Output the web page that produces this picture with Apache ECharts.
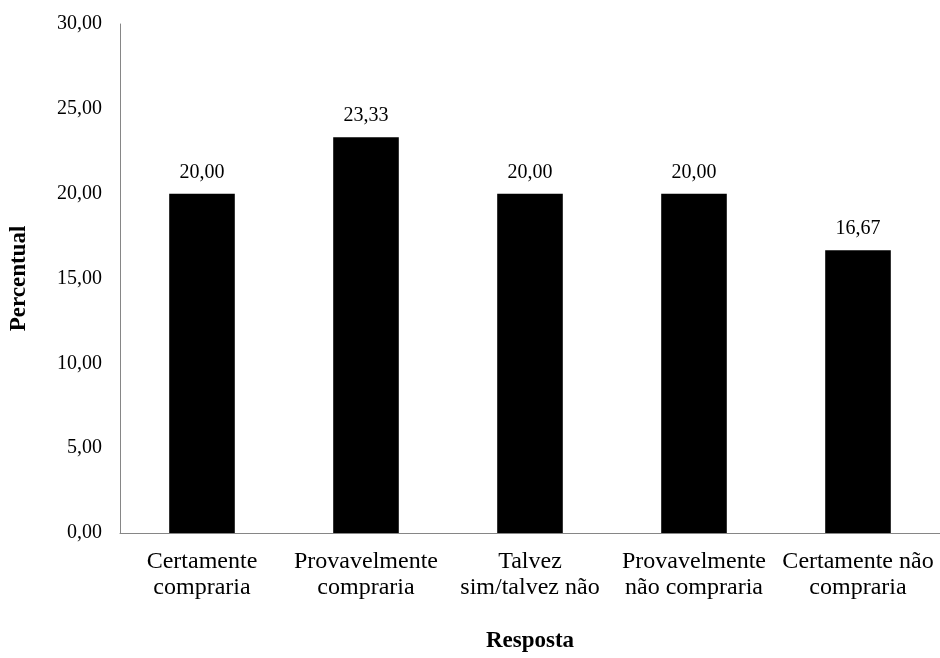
<!DOCTYPE html>
<html>
<head>
<meta charset="utf-8">
<script src="https://cdn.jsdelivr.net/npm/echarts@6/dist/echarts.min.js"></script>
<style>
  html, body { margin: 0; padding: 0; background: #fff; }
  #chart { width: 940px; height: 658px; }
</style>
</head>
<body>
<div id="chart"></div>
<script>
// Response categories and percentage of respondents for each
const categories = [
  'Certamente\ncompraria',
  'Provavelmente\ncompraria',
  'Talvez\nsim/talvez não',
  'Provavelmente\nnão compraria',
  'Certamente não\ncompraria'
];
const percentages = [20.00, 23.33, 20.00, 20.00, 16.67];

const yMin = 0;
const yMax = 30;
const yStep = 5;

const FONT = '"Liberation Serif", "Times New Roman", serif';
const AXIS_GREY = '#868686';

const fmt = v => v.toFixed(2).replace('.', ',');

const chart = echarts.init(document.getElementById('chart'), null, { renderer: 'canvas' });

chart.setOption({
  animation: false,
  backgroundColor: '#ffffff',
  grid: { left: 117, right: 0, top: 24, bottom: 121, containLabel: false },
  xAxis: {
    type: 'category',
    data: categories,
    name: 'Resposta',
    nameLocation: 'middle',
    nameGap: 97,
    nameTextStyle: { fontFamily: FONT, fontSize: 23, fontWeight: 'bold', color: '#000' },
    axisLine: { show: true, lineStyle: { color: AXIS_GREY, width: 1 } },
    axisTick: { show: false },
    axisLabel: {
      interval: 0,
      margin: 16,
      fontFamily: FONT,
      fontSize: 24,
      lineHeight: 26,
      color: '#000'
    }
  },
  yAxis: {
    type: 'value',
    min: yMin,
    max: yMax,
    interval: yStep,
    name: 'Percentual',
    nameLocation: 'middle',
    nameGap: 89,
    nameRotate: 90,
    nameTextStyle: { fontFamily: FONT, fontSize: 23, fontWeight: 'bold', color: '#000' },
    axisLine: { show: true, lineStyle: { color: AXIS_GREY, width: 1 } },
    axisTick: { show: false },
    splitLine: { show: false },
    axisLabel: {
      margin: 18,
      fontFamily: FONT,
      fontSize: 20,
      color: '#000',
      formatter: v => fmt(v)
    }
  },
  series: [{
    type: 'bar',
    data: percentages,
    barWidth: '40%',
    itemStyle: { color: '#000000' },
    label: {
      show: true,
      position: 'top',
      distance: 11,
      fontFamily: FONT,
      fontSize: 20,
      color: '#000',
      formatter: p => fmt(p.value)
    }
  }]
});
</script>
</body>
</html>
